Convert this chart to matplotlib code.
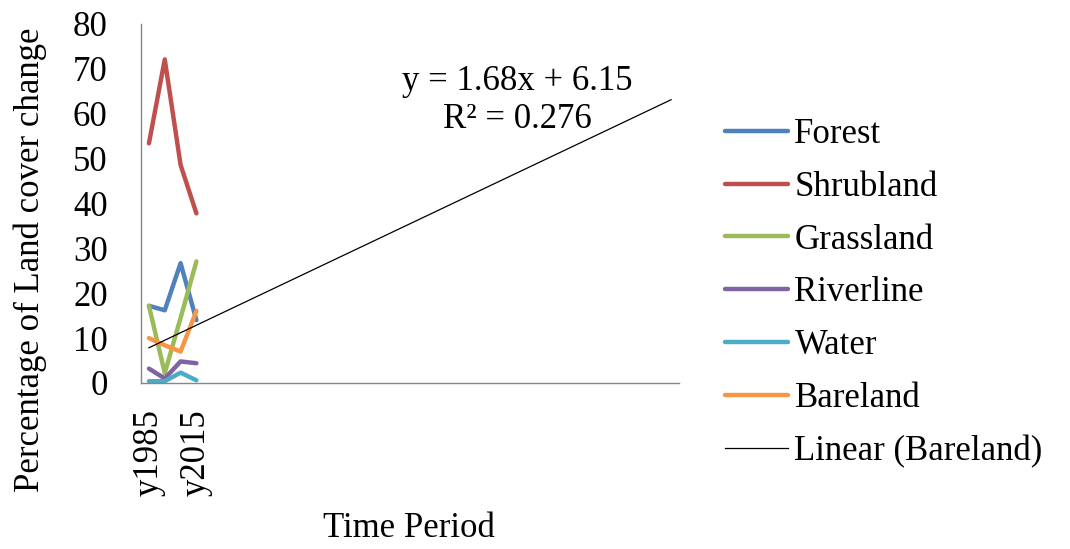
import numpy as np
import matplotlib
matplotlib.use('Agg')
import matplotlib.pyplot as plt

plt.rcParams['font.family'] = ['Liberation Serif', 'DejaVu Serif']

periods = ["y1985", "y1995", "y2005", "y2015"]
forest = [17.2, 16.2, 26.7, 14.0]
shrubland = [53.4, 72.1, 48.6, 37.8]
grassland = [17.2, 2.2, 14.5, 27.1]
riverline = [3.2, 1.0, 4.8, 4.4]
water = [0.4, 0.4, 2.3, 0.6]
bareland = [10.0, 8.4, 7.0, 16.05]
forecast_forward = 30

series = [
    ("Forest", forest, "#4F81BD"),
    ("Shrubland", shrubland, "#C0504D"),
    ("Grassland", grassland, "#9BBB59"),
    ("Riverline", riverline, "#8064A2"),
    ("Water", water, "#4BACC6"),
    ("Bareland", bareland, "#F79646"),
]
FS = 25

fig = plt.figure(figsize=(10.7, 5.49), dpi=100)
ax = fig.add_axes([0.1318, 0.3024, 0.5028, 0.6539])

x = np.arange(1, len(periods) + 1)
for name, vals, col in series:
    ax.plot(x, vals, color=col, linewidth=3.2, label=name, solid_capstyle='round')

# linear trendline for Bareland, forecast forward like Excel
slope, intercept = np.polyfit(x, bareland, 1)
x_end = len(periods) + forecast_forward
xt = np.array([1, x_end])
ax.plot(xt, slope * xt + intercept, color='black', linewidth=0.9, label="Linear (Bareland)")

fig.text(517 / 1070, 1 - 82 / 549, "y = 1.68x + 6.15", fontsize=FS, ha='center', va='center')
fig.text(517 / 1070, 1 - 120 / 549, "R² = 0.276", fontsize=FS, ha='center', va='center')

ax.set_xlim(0.5, x_end + 0.5)
ax.set_ylim(0, 80)
ax.set_yticks(np.arange(0, 81, 10))
ax.set_xticks([1, 4])
ax.set_xticklabels([periods[0], periods[3]], rotation=90)
ax.tick_params(axis='both', length=0, labelsize=FS)
ax.tick_params(axis='y', pad=24)
ax.tick_params(axis='x', pad=19)

for s in ['top', 'right']:
    ax.spines[s].set_visible(False)
for s in ['left', 'bottom']:
    ax.spines[s].set_color('#878787')
    ax.spines[s].set_linewidth(1.0)

fig.text(30 / 1070, 1 - 260 / 549, "Percentage of Land cover change", fontsize=FS,
         rotation=90, ha='center', va='center')
fig.text(409 / 1070, 4 / 549, "Time Period", fontsize=FS, ha='center', va='bottom')

leg = fig.legend(loc='upper left', bbox_to_anchor=(725 / 1070, 1 - 118 / 549), frameon=False,
                 fontsize=FS, handlelength=1.8, handletextpad=0.2, labelspacing=0.57,
                 borderpad=0, borderaxespad=0)

fig.savefig("out.png", dpi=100)
